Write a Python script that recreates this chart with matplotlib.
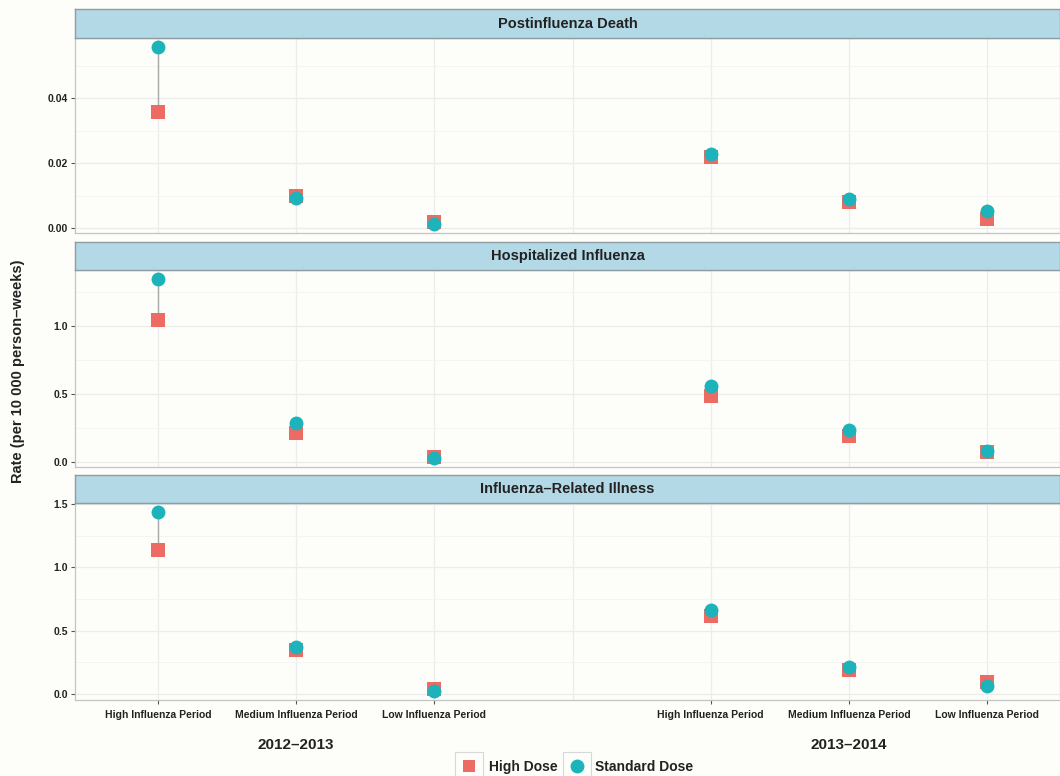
import matplotlib
matplotlib.use("Agg")
import matplotlib.pyplot as plt
import matplotlib.transforms as mtransforms
from matplotlib.patches import Rectangle
from matplotlib.lines import Line2D
from matplotlib.ticker import MultipleLocator, FormatStrFormatter

plt.rcParams['font.family'] = ['Liberation Sans', 'DejaVu Sans']

# ---- data -------------------------------------------------------------
outcomes = ["Postinfluenza Death", "Hospitalized Influenza", "Influenza\u2013Related Illness"]
seasons = ["2012\u20132013", "2013\u20132014"]
periods = ["High Influenza Period", "Medium Influenza Period", "Low Influenza Period"]
series_names = ["High Dose", "Standard Dose"]

# rates per 10 000 person-weeks; order: 2012-13 High, Medium, Low, 2013-14 High, Medium, Low
hd_death = [0.0357, 0.0099, 0.0021, 0.0220, 0.0080, 0.0028]
sd_death = [0.0559, 0.0094, 0.0013, 0.0229, 0.0089, 0.0052]
hd_hosp = [1.042, 0.216, 0.035, 0.483, 0.190, 0.076]
sd_hosp = [1.343, 0.287, 0.030, 0.557, 0.235, 0.079]
hd_ili = [1.136, 0.350, 0.045, 0.615, 0.190, 0.095]
sd_ili = [1.436, 0.372, 0.025, 0.660, 0.215, 0.065]

y_steps = [0.02, 0.5, 0.5]
y_formats = ["%.2f", "%.1f", "%.1f"]

# ---- styling ----------------------------------------------------------
W, H = 1060, 776
HD_COLOR = "#ec6b62"
SD_COLOR = "#1db3ba"
SEG_COLOR = "#a9a9a9"
GRID = "#ececec"
STRIP_FILL = "#b4d9e6"
STRIP_EDGE = "#8f9ca2"
TEXT = "#222222"
BG = "#fdfdfa"

fig = plt.figure(figsize=(W / 100, H / 100), dpi=100, facecolor=BG)

def fy(px):
    return 1 - px / H

left = 75 / W
width = 1.0 - left
panel_px = [(38, 233), (270, 467), (503, 700)]
strip_px = [(9, 38), (242, 270), (475, 503)]

# x positions: three periods per season, one empty slot between seasons
x_pos = [1, 2, 3, 5, 6, 7]
x_ticks = [1, 2, 3, 4, 5, 6, 7]
x_ticklabels = periods + [""] + periods

hd_all = [hd_death, hd_hosp, hd_ili]
sd_all = [sd_death, sd_hosp, sd_ili]

axes = []
for i in range(3):
    top, bot = panel_px[i]
    ax = fig.add_axes([left, fy(bot), width, (bot - top) / H])
    ax.set_facecolor(BG)
    hd, sd = hd_all[i], sd_all[i]
    ax.vlines(x_pos, hd, sd, color=SEG_COLOR, lw=1.0, zorder=2)
    ax.scatter(x_pos, hd, marker="s", s=90, color=HD_COLOR, zorder=3, linewidths=0)
    ax.scatter(x_pos, sd, marker="o", s=100, color=SD_COLOR, zorder=4, linewidths=0)
    ax.set_xlim(0.4, 0.4 + (W - 75) / 138.2)
    ax.margins(y=0.05)
    ax.yaxis.set_major_locator(MultipleLocator(y_steps[i]))
    ax.yaxis.set_minor_locator(MultipleLocator(y_steps[i] / 2))
    ax.yaxis.set_major_formatter(FormatStrFormatter(y_formats[i]))
    ax.set_xticks(x_ticks)
    ax.grid(True, which="major", color=GRID, lw=0.9, zorder=0)
    ax.grid(True, which="minor", axis="y", color="#f3f3f1", lw=0.6, zorder=0)
    ax.set_axisbelow(True)
    for sp in ax.spines.values():
        sp.set_color("#c4c4c4")
        sp.set_linewidth(0.9)
    ax.tick_params(axis="y", which="major", length=3, width=0.8, color="#555555",
                   labelsize=7.5, labelcolor=TEXT, pad=2)
    ax.tick_params(axis="y", which="minor", length=0)
    if i < 2:
        ax.tick_params(axis="x", length=0, labelbottom=False)
    else:
        ax.set_xticklabels(x_ticklabels)
        ax.tick_params(axis="x", length=3, width=0.8, color="#555555",
                       labelsize=7.5, labelcolor=TEXT, pad=4)
        for lab in ax.get_xticklabels():
            lab.set_fontweight("semibold")
        # the empty slot between seasons keeps its gridline but no tick mark
        ax.xaxis.get_major_ticks()[3].tick1line.set_visible(False)
    for lab in ax.get_yticklabels():
        lab.set_fontweight("semibold")
    axes.append(ax)

    # facet strip
    st, sb = strip_px[i]
    sax = fig.add_axes([left, fy(sb), width, (sb - st) / H])
    sax.set_facecolor(STRIP_FILL)
    sax.set_xticks([])
    sax.set_yticks([])
    for sp in sax.spines.values():
        sp.set_color(STRIP_EDGE)
        sp.set_linewidth(1.0)
    sax.text(0.5, 0.5, outcomes[i], transform=sax.transAxes,
             ha="center", va="center", fontsize=10.5, fontweight="bold", color=TEXT)

# season labels under the period ticks
trans = mtransforms.blended_transform_factory(axes[2].transData, fig.transFigure)
for xc, name in zip([2, 6], seasons):
    fig.text(xc, fy(745), name, transform=trans, ha="center", va="center",
             fontsize=11, fontweight="bold", color=TEXT)

# y-axis title
fig.text(18 / W, fy(371), "Rate (per 10 000 person\u2013weeks)", rotation=90,
         ha="center", va="center", fontsize=10.5, fontweight="bold", color=TEXT)

# legend
key_specs = [(455, "s", HD_COLOR, 9, 489), (563, "o", SD_COLOR, 10, 595)]
for (kx, mk, col, ms, tx), name in zip(key_specs, series_names):
    fig.add_artist(Rectangle((kx / W, fy(781)), 28 / W, 29 / H, transform=fig.transFigure,
                             facecolor=BG, edgecolor="#d8d8d8", lw=0.8))
    fig.add_artist(Line2D([(kx + 14) / W], [fy(766)], transform=fig.transFigure,
                          marker=mk, markersize=ms, color=col, markeredgewidth=0, linestyle=""))
    fig.text(tx / W, fy(767), name, ha="left", va="center", fontsize=10,
             fontweight="bold", color=TEXT)

fig.savefig("out.png", dpi=100, facecolor=BG)
